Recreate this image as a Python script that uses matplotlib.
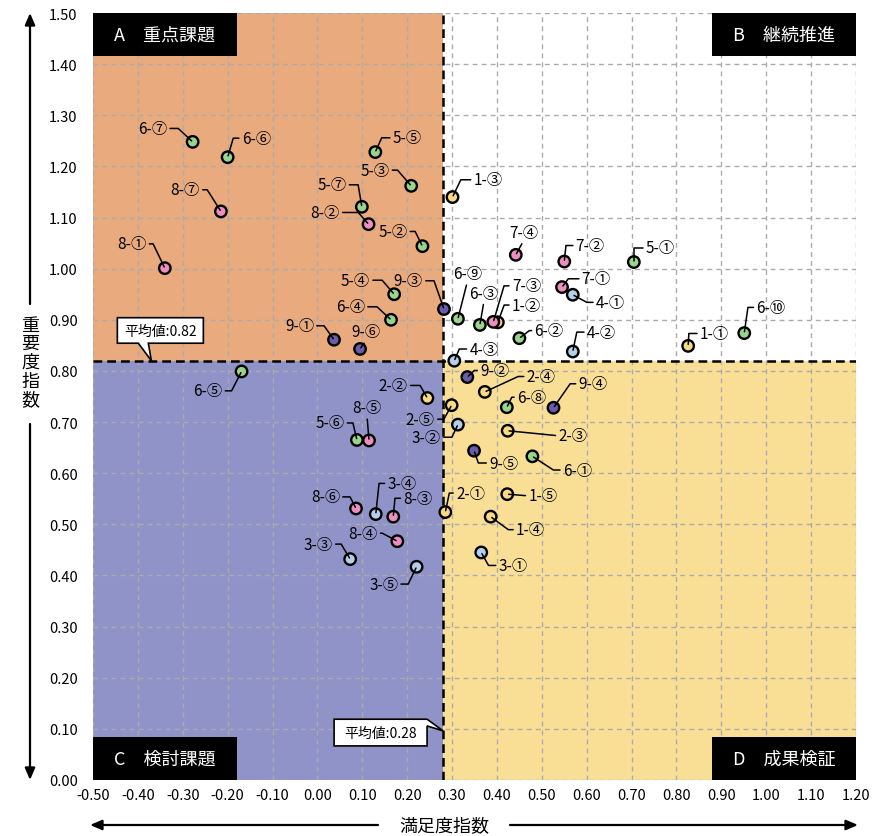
import numpy as np
import matplotlib
matplotlib.use('Agg')
import matplotlib.pyplot as plt
import matplotlib.transforms as mtrans
from matplotlib.patches import Rectangle, Polygon

plt.rcParams['font.family'] = ['Noto Sans CJK JP', 'DejaVu Sans']

# --- data -------------------------------------------------------------
names = ['1-①', '1-②', '1-③', '1-④', '1-⑤',
         '2-①', '2-②', '2-③', '2-④', '2-⑤',
         '3-①', '3-②', '3-③', '3-④', '3-⑤',
         '4-①', '4-②', '4-③',
         '5-①', '5-②', '5-③', '5-④', '5-⑤', '5-⑥', '5-⑦',
         '6-①', '6-②', '6-③', '6-④', '6-⑤', '6-⑥', '6-⑦', '6-⑧', '6-⑨', '6-⑩',
         '7-①', '7-②', '7-③', '7-④',
         '8-①', '8-②', '8-③', '8-④', '8-⑤', '8-⑥', '8-⑦',
         '9-①', '9-②', '9-③', '9-④', '9-⑤', '9-⑥']
satisfaction = [0.826, 0.402, 0.301, 0.386, 0.423,
                0.285, 0.245, 0.424, 0.373, 0.299,
                0.365, 0.313, 0.073, 0.130, 0.221,
                0.569, 0.569, 0.305,
                0.705, 0.234, 0.209, 0.171, 0.129, 0.088, 0.099,
                0.479, 0.450, 0.362, 0.164, -0.169, -0.200, -0.278, 0.422, 0.313, 0.951,
                0.545, 0.550, 0.392, 0.442,
                -0.340, 0.114, 0.169, 0.178, 0.115, 0.086, -0.215,
                0.037, 0.334, 0.282, 0.526, 0.349, 0.095]
importance = [0.849, 0.895, 1.140, 0.515, 0.559,
              0.524, 0.747, 0.683, 0.759, 0.733,
              0.445, 0.695, 0.432, 0.520, 0.417,
              0.949, 0.838, 0.820,
              1.013, 1.044, 1.162, 0.950, 1.228, 0.665, 1.121,
              0.633, 0.864, 0.890, 0.900, 0.799, 1.218, 1.248, 0.729, 0.902, 0.874,
              0.964, 1.014, 0.896, 1.027,
              1.001, 1.087, 0.515, 0.467, 0.664, 0.531, 1.112,
              0.861, 0.788, 0.921, 0.728, 0.644, 0.843]

mean_sat = 0.28
mean_imp = 0.82
xticks = np.round(np.arange(-0.5, 1.201, 0.1), 2) + 0.0
yticks = np.round(np.arange(0.0, 1.501, 0.1), 2) + 0.0
quadrants = ['A　重点課題', 'B　継続推進', 'C　検討課題', 'D　成果検証']

# --- styling ----------------------------------------------------------
group_colors = {'1': '#F8DA84', '2': '#F8DA84', '3': '#B5CFE8', '4': '#B5CFE8',
                '5': '#9AD38B', '6': '#9AD38B', '7': '#EC8EC0', '8': '#EC8EC0',
                '9': '#6C5BAA'}
# label placement in pixels relative to the point: kind, text x, text y, elbow x
label_pos = {
    '6-⑦': ('L', -25.4, -13.4, -14.4), '6-⑥': ('R', 14, -19, 5.6),
    '8-⑦': ('L', -21, -21.6, -13.7), '8-①': ('L', -18.3, -24.3, -11.7),
    '5-⑤': ('R', 17.4, -14.3, 6.4), '5-③': ('L', -21.7, -15.7, -13.7),
    '5-⑦': ('L', -15.3, -22, -3.7), '8-②': ('L', -28.7, -11.7, -10.4),
    '5-②': ('L', -15, -14.7, -7.3), '5-④': ('L', -24, -14, -12),
    '9-③': ('L', -21, -28.3, -10), '1-③': ('R', 21, -17.3, 8.3),
    '7-④': ('U', 7.6, -22.4, 0), '7-②': ('R', 11.4, -16, 1.7),
    '5-①': ('R', 12, -14.3, 0), '7-①': ('R', 19.7, -8.3, 6.3),
    '4-①': ('R', 23, 7.6, 14), '6-⑨': ('U', 9.3, -45, 0),
    '6-③': ('U', 4, -31.7, 0), '7-③': ('R', 18.4, -36, 10.7),
    '1-②': ('R', 14, -17.3, 6.3), '6-②': ('R', 15, -7.6, 10),
    '4-②': ('R', 14, -19.4, 4), '4-③': ('R', 15, -11.7, 5),
    '1-①': ('R', 11.7, -12.4, 0.7), '6-⑩': ('R', 12, -25.7, 3.7),
    '6-④': ('L', -26, -13, -14), '9-①': ('L', -20, -14, -10),
    '9-⑥': ('U', 6, -17, 0), '6-⑤': ('L', -19, 19.4, -10),
    '5-⑥': ('L', -12.4, -17, -4), '8-⑤': ('U', -2, -32.7, 0),
    '9-②': ('R', 12.7, -6.6, 7), '2-④': ('R', 41.7, -15.4, 33.3),
    '6-⑧': ('R', 10, -10, 5), '9-④': ('R', 25, -24, 16.7),
    '2-②': ('L', -19.6, -12.6, -7.3), '2-⑤': ('L', -16.7, 14, -7.7),
    '3-②': ('L', -17, 12.6, -6), '2-③': ('S', 50.6, 5, 0),
    '9-⑤': ('R', 15, 12.3, 4.3), '6-①': ('R', 30.4, 13.7, 21),
    '8-⑥': ('L', -16, -11.6, -6), '3-④': ('R', 11.6, -30.7, 3.3),
    '8-③': ('R', 10, -18.4, 1.7), '8-④': ('L', -19.6, -8, -15),
    '3-③': ('L', -17.3, -15, -9), '3-⑤': ('L', -18.4, 17.3, -8.4),
    '2-①': ('R', 10.7, -19, 4), '1-⑤': ('S', 21, 1.7, 0),
    '1-④': ('R', 25.3, 13, 17.6), '3-①': ('R', 17.3, 13, 7.3),
}
PX = 0.72  # points per pixel at 100 dpi

fig = plt.figure(figsize=(8.74, 8.37), dpi=100)
ax = fig.add_axes([93 / 874, 56 / 837, 763 / 874, 767 / 837])
ax.set_xlim(-0.5, 1.2)
ax.set_ylim(0.0, 1.5)

# quadrant backgrounds
ax.fill_between([-0.5, mean_sat], mean_imp, 1.5, color='#E9AA7D', lw=0, zorder=0)
ax.fill_between([-0.5, mean_sat], 0, mean_imp, color='#9093C8', lw=0, zorder=0)
ax.fill_between([mean_sat, 1.2], 0, mean_imp, color='#F9DF96', lw=0, zorder=0)

ax.set_axisbelow(True)
ax.grid(True, color='#ababab', linestyle=(0, (3.5, 3)), lw=1)
ax.set_xticks(xticks)
ax.set_yticks(yticks)
ax.set_xticklabels([f'{v:.2f}' for v in xticks])
ax.set_yticklabels([f'{v:.2f}' for v in yticks])
ax.tick_params(axis='y', length=0, pad=11, labelsize=10.5)
ax.tick_params(axis='x', length=0, pad=6, labelsize=10.5)
for sp in ax.spines.values():
    sp.set_visible(False)

# mean lines
ax.axvline(mean_sat, color='black', lw=1.8, linestyle=(0, (3.5, 2)), zorder=2)
ax.axhline(mean_imp, color='black', lw=1.8, linestyle=(0, (3.5, 2)), zorder=2)

# points
cols = [group_colors[n.split('-')[0]] for n in names]
ax.scatter(satisfaction, importance, s=68, c=cols, edgecolors='black',
           linewidths=1.7, zorder=3)

# labels with leader lines
for name, x, y in zip(names, satisfaction, importance):
    kind, tx, ty, ex = label_pos[name]
    if kind == 'U':
        ha, rel, cs = 'center', (0.5, 0.0), 'arc3,rad=0'
    elif kind == 'S':
        ha, rel, cs = 'left', (0.0, 0.5), 'arc3,rad=0'
    else:
        ha = 'right' if kind == 'L' else 'left'
        rel = (1.0, 0.5) if kind == 'L' else (0.0, 0.5)
        ang = np.degrees(np.arctan2(-ty, ex))
        cs = f'angle,angleA=0,angleB={ang:.2f},rad=0'
    ax.annotate(name, xy=(x, y), xytext=(tx * PX, -ty * PX),
                textcoords='offset points', ha=ha, va='center', fontsize=11,
                zorder=4,
                arrowprops=dict(arrowstyle='-', color='black', lw=1.1,
                                shrinkA=0, shrinkB=1, relpos=rel,
                                connectionstyle=cs))

# quadrant title boxes
bw, bh = 144 / 763, 43 / 767
for label, (bx, by) in zip(quadrants, [(0, 1 - bh), (1 - bw, 1 - bh), (0, 0), (1 - bw, 0)]):
    ax.add_patch(Rectangle((bx, by), bw, bh, transform=ax.transAxes,
                           fc='black', ec='none', zorder=5, clip_on=False))
    ax.text(bx + bw / 2, by + bh / 2, label, transform=ax.transAxes,
            color='white', fontsize=13, ha='center', va='center', zorder=6)

# mean value callouts (shapes in inches, anchored at the tip)
def callout(xt, yt, verts, text, tpos):
    trans = fig.dpi_scale_trans + mtrans.ScaledTranslation(xt, yt, ax.transData)
    ax.add_patch(Polygon(verts, closed=True, transform=trans, fc='white',
                         ec='black', lw=1.2, zorder=6, clip_on=False))
    ax.text(tpos[0], tpos[1], text, transform=trans, fontsize=10,
            ha='center', va='center', zorder=7)

callout(-0.37, mean_imp,
        [(-0.34, 0.175), (-0.13, 0.175), (0, 0), (-0.03, 0.175),
         (0.52, 0.175), (0.52, 0.43), (-0.34, 0.43)],
        f'平均値:{mean_imp:.2f}', (0.09, 0.30))
callout(mean_sat, 0.096,
        [(-1.09, -0.15), (-0.16, -0.15), (-0.16, 0.05), (0, 0),
         (-0.16, 0.117), (-1.09, 0.117)],
        f'平均値:{mean_sat:.2f}', (-0.625, -0.016))

# axis titles with arrows
arrow = dict(arrowstyle='-|>,head_length=0.7,head_width=0.3', color='black',
             lw=1.6, shrinkA=0, shrinkB=0)
fig.text(30 / 874, 1 - 363 / 837, '重\n要\n度\n指\n数', fontsize=13,
         ha='center', va='center', linespacing=1.05)
ax.annotate('', xy=(30 / 874, 1 - 14 / 837), xytext=(30 / 874, 1 - 305 / 837),
            xycoords='figure fraction', textcoords='figure fraction', arrowprops=arrow)
ax.annotate('', xy=(30 / 874, 1 - 781 / 837), xytext=(30 / 874, 1 - 425 / 837),
            xycoords='figure fraction', textcoords='figure fraction', arrowprops=arrow)
fig.text(444 / 874, 1 - 826 / 837, '満足度指数', fontsize=13, ha='center', va='center')
ax.annotate('', xy=(90 / 874, 1 - 826 / 837), xytext=(378 / 874, 1 - 826 / 837),
            xycoords='figure fraction', textcoords='figure fraction', arrowprops=arrow)
ax.annotate('', xy=(858 / 874, 1 - 826 / 837), xytext=(510 / 874, 1 - 826 / 837),
            xycoords='figure fraction', textcoords='figure fraction', arrowprops=arrow)

fig.savefig('out.png', dpi=100)
